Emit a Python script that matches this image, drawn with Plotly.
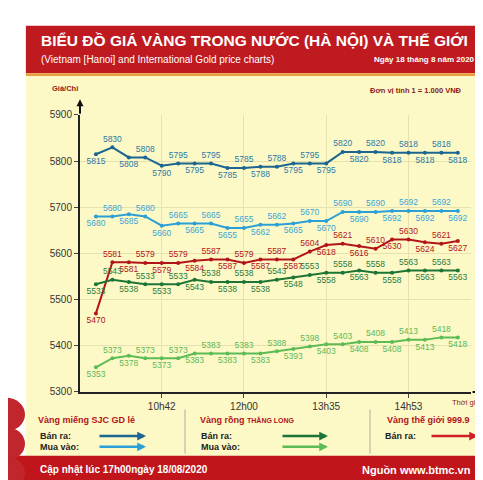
import plotly.graph_objects as go

idx = list(range(23))
sjc_sell = [5815,5830,5808,5808,5790,5795,5795,5795,5785,5785,5788,5788,5795,5795,5795,5820,5820,5820,5818,5818,5818,5818,5818]
sjc_buy = [5680,5680,5685,5680,5660,5665,5665,5665,5655,5655,5662,5662,5665,5670,5670,5690,5690,5690,5692,5692,5692,5692,5692]
world = [5470,5581,5581,5579,5579,5579,5584,5587,5587,5579,5587,5587,5587,5604,5618,5621,5616,5610,5630,5630,5624,5621,5627]
tl_sell = [5533,5543,5538,5533,5533,5533,5543,5538,5538,5538,5538,5543,5548,5553,5558,5558,5563,5558,5558,5563,5563,5563,5563]
tl_buy = [5353,5373,5378,5373,5373,5373,5383,5383,5383,5383,5383,5388,5393,5398,5403,5403,5408,5408,5408,5413,5413,5418,5418]
tick_idx = [4, 9, 14, 19]
tick_text = ["10h42", "12h00", "13h35", "14h53"]
y_ticks = [5300, 5400, 5500, 5600, 5700, 5800, 5900]

FONT = "Liberation Sans"
W, H = 483, 480
def px(x): return x / W
def py(y): return 1 - y / H

fig = go.Figure()
series = [
    (sjc_sell, "#1b6590", "#2a7aa8"),
    (sjc_buy, "#2b9fd6", "#3aa6d8"),
    (world, "#b3141a", "#b3141a"),
    (tl_sell, "#1c7535", "#2a7a3e"),
    (tl_buy, "#5dbb55", "#5cb85a"),
]
for vals, col, tcol in series:
    pos = ["bottom center" if i % 2 == 0 else "top center" for i in idx]
    fig.add_trace(go.Scatter(
        x=idx, y=vals, mode="lines+markers+text", text=[str(v) for v in vals],
        textposition=pos, textfont=dict(size=8.5, color=tcol, family=FONT),
        line=dict(color=col, width=2), marker=dict(size=4, color=col),
        showlegend=False, cliponaxis=False))

fig.update_layout(
    width=W, height=H, margin=dict(l=0, r=0, t=0, b=0),
    paper_bgcolor="white", plot_bgcolor="#fdf9c6",
    xaxis=dict(domain=[0.149, 0.9586], range=[-0.97, 22.8], tickvals=tick_idx, ticktext=tick_text,
               showgrid=True, gridcolor="#e6e2b0", zeroline=False, showline=True, linecolor="#222",
               linewidth=2, ticks="outside", ticklen=4, tickfont=dict(size=10, color="#333", family=FONT)),
    yaxis=dict(domain=[0.194, 0.783], range=[5300, 5900], tickvals=y_ticks,
               showgrid=True, gridcolor="#e6e2b0", zeroline=False, showline=True, linecolor="#222",
               linewidth=2, ticks="outside", ticklen=4, tickfont=dict(size=10, color="#333", family=FONT)),
)

shapes = [
    dict(type="rect", xref="paper", yref="paper", x0=0.037, x1=0.997, y0=0.052, y1=0.872,
         fillcolor="#fdf9c6", line=dict(width=0), layer="below"),
    dict(type="rect", xref="paper", yref="paper", x0=0.037, x1=0.997, y0=0.872, y1=0.973,
         fillcolor="#bf1a1f", line=dict(width=0)),
    dict(type="rect", xref="paper", yref="paper", x0=0.037, x1=0.997, y0=0.866, y1=0.872,
         fillcolor="#e8a040", line=dict(width=0)),
    dict(type="rect", xref="paper", yref="paper", x0=0.0, x1=1.0, y0=0.0, y1=0.058,
         fillcolor="#c0151b", line=dict(width=0)),
    dict(type="line", xref="paper", yref="paper", x0=px(177), x1=px(177), y0=py(450), y1=py(405),
         line=dict(color="#aaa", width=1)),
    dict(type="line", xref="paper", yref="paper", x0=px(362), x1=px(362), y0=py(450), y1=py(405),
         line=dict(color="#aaa", width=1)),
]
for yc in [410, 440, 470]:
    shapes.append(dict(type="circle", xref="paper", yref="paper", x0=px(-20), x1=px(17),
                       y0=py(yc + 17), y1=py(yc - 17), fillcolor="#c0262c", line=dict(width=0)))
fig.update_layout(shapes=shapes)

ann = []
def A(x, y, t, size=10, color="#333", bold=False, xa="left"):
    ann.append(dict(x=px(x), y=py(y), xref="paper", yref="paper", text=("<b>%s</b>" % t if bold else t),
                    showarrow=False, xanchor=xa, yanchor="middle",
                    font=dict(size=size, color=color, family=FONT)))

A(31, 28, "BIỂU ĐỒ GIÁ VÀNG TRONG NƯỚC (HÀ NỘI) VÀ THẾ GIỚI", 15.5, "white", True)
A(31, 47, "(Vietnam [Hanoi] and International Gold price charts)", 10, "white")
A(469, 47, "Ngày 18 tháng 8 năm 2020", 8, "white", True, "right")
A(42, 77, "Giá/Chỉ", 7.5, "#8b1a1a", True)
A(456, 79, "Đơn vị tính 1 = 1.000 VNĐ", 7.5, "#8b1a1a", True, "right")
A(478, 398, "Thời gian", 7.5, "#8b1a1a", False, "right")
A(28, 416, "Vàng miếng SJC GD lẻ", 9, "#b3141a", True)
A(190, 416, "Vàng rồng <span style='font-size:7px'>THĂNG LONG</span>", 9, "#b3141a", True)
A(377, 416, "Vàng thế giới 999.9", 9, "#b3141a", True)
A(30, 432, "Bán ra:", 9, "#222", True)
A(30, 443, "Mua vào:", 9, "#222", True)
A(191, 432, "Bán ra:", 9, "#222", True)
A(191, 443, "Mua vào:", 9, "#222", True)
A(375, 432, "Bán ra:", 9, "#222", True)
A(30, 467, "Cập nhật lúc 17h00ngày 18/08/2020", 10, "white", True)
A(465, 467, "Nguồn www.btmc.vn", 11, "white", True, "right")

def arrow(x0, y0, x1, y1, c="#111", w=2.5):
    ann.append(dict(x=px(x1), y=py(y1), ax=x0 - x1, ay=y0 - y1, xref="paper", yref="paper",
                    axref="pixel", ayref="pixel",
                    showarrow=True, arrowhead=2, arrowsize=0.7, arrowwidth=w, arrowcolor=c, text=""))

for x0, x1, y, c in [(90, 138, 432, "#1b6590"), (90, 138, 443, "#2b9fd6"),
                     (273, 320, 432, "#1c7535"), (273, 320, 443, "#5dbb55"),
                     (422, 470, 432, "#d0202a")]:
    arrow(x0, y, x1, y, c=c)
arrow(72, 104, 72, 88, w=2)
arrow(463, 387, 479, 387, w=2)
fig.update_layout(annotations=ann)
fig.write_html("out.html")
